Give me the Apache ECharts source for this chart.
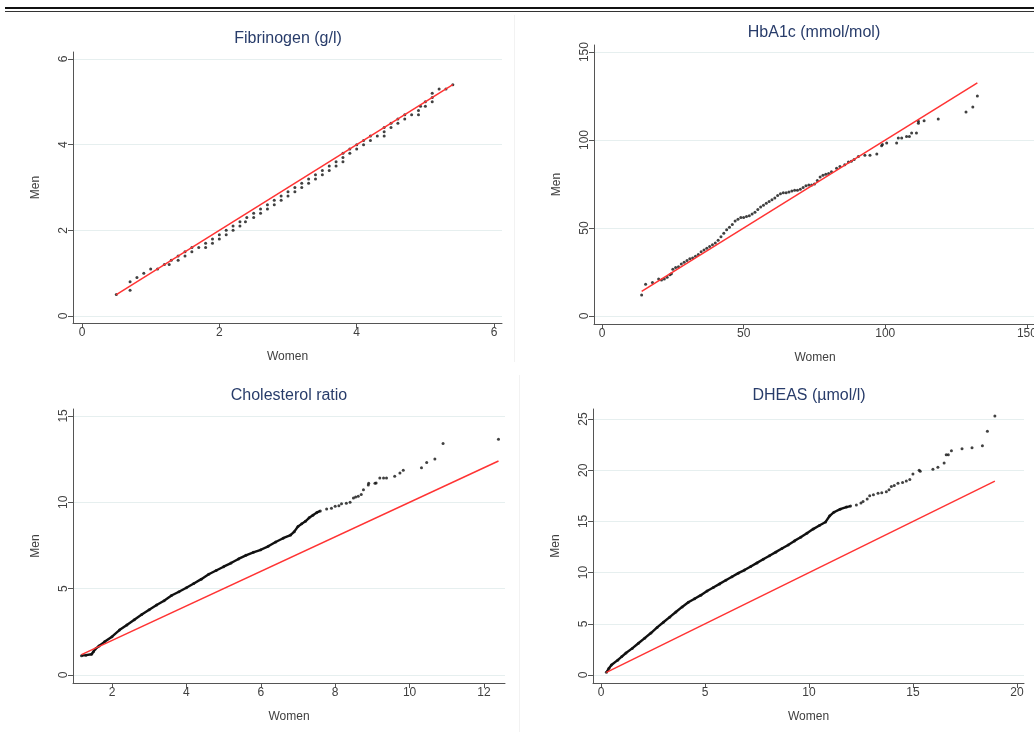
<!DOCTYPE html>
<html><head><meta charset="utf-8">
<script src="https://cdn.jsdelivr.net/npm/echarts@6/dist/echarts.min.js"></script>
<style>html,body{margin:0;padding:0;background:#fff}#c{width:1034px;height:732px}</style>
</head><body><div id="c"></div><script>
// ---------- data ----------
const titles = ['Fibrinogen (g/l)', 'HbA1c (mmol/mol)', 'Cholesterol ratio', 'DHEAS (\u00b5mol/l)'];
const xName = 'Women';
const yName = 'Men';

const fibXTicks = [0, 2, 4, 6];
const fibYTicks = [0, 2, 4, 6];
const hbaXTicks = [0, 50, 100, 150];
const hbaYTicks = [0, 50, 100, 150];
const cholXTicks = [2, 4, 6, 8, 10, 12];
const cholYTicks = [0, 5, 10, 15];
const dheXTicks = [0, 5, 10, 15, 20];
const dheYTicks = [0, 5, 10, 15, 20, 25];

// reference (equality) line end values
const fibRef = [0.5, 5.4];
const hbaRef = [14, 132.5];
const cholRef = [1.18, 12.39];
const dheRef = [0.26, 18.94];

const fibPoints = [[0.5,0.5],[0.7,0.8],[0.7,0.6],[0.8,0.9],[0.9,1.0],[1.0,1.1],[1.1,1.1],[1.2,1.2],[1.27,1.2],[1.3,1.3],[1.4,1.3],[1.4,1.4],[1.5,1.5],[1.5,1.4],[1.6,1.6],[1.6,1.5],[1.7,1.6],[1.8,1.7],[1.8,1.6],[1.9,1.8],[1.9,1.7],[2.0,1.9],[2.0,1.8],[2.1,2.0],[2.1,1.9],[2.2,2.1],[2.2,2.0],[2.3,2.2],[2.3,2.1],[2.38,2.2],[2.4,2.3],[2.5,2.4],[2.5,2.3],[2.6,2.5],[2.6,2.4],[2.7,2.6],[2.7,2.5],[2.8,2.7],[2.8,2.6],[2.9,2.8],[2.9,2.7],[3.0,2.9],[3.0,2.8],[3.1,3.0],[3.1,2.9],[3.2,3.1],[3.2,3.0],[3.3,3.2],[3.3,3.1],[3.4,3.3],[3.4,3.2],[3.5,3.4],[3.5,3.3],[3.6,3.5],[3.6,3.4],[3.7,3.6],[3.7,3.5],[3.8,3.8],[3.8,3.7],[3.8,3.6],[3.9,3.9],[3.9,3.8],[4.0,4.0],[4.0,3.9],[4.1,4.1],[4.1,4.0],[4.2,4.2],[4.2,4.1],[4.3,4.2],[4.4,4.3],[4.4,4.2],[4.4,4.4],[4.5,4.5],[4.5,4.4],[4.6,4.6],[4.6,4.5],[4.7,4.7],[4.7,4.6],[4.8,4.7],[4.9,4.8],[4.9,4.7],[4.93,4.9],[5.0,5.0],[5.0,4.9],[5.1,5.2],[5.1,5.1],[5.1,5.0],[5.2,5.3],[5.3,5.3],[5.4,5.4]];

const hbaPoints = [[14,12],[15.4,18],[17.8,19],[20,21],[21,20.5],[22,21],[23,22],[24,23.5],[24.5,24],[25,26.5],[26,27.5],[27,28],[28,29.5],[29,30.5],[30,31.5],[31,32.5],[32,33],[33,34],[34,35],[35,36.5],[36,37.5],[37,38.5],[38,39.5],[39,40.5],[40,41.5],[41,43],[42,45],[43,47],[44,49],[45,50.5],[46,52],[47,54],[48,55],[49,56],[50,56],[51,56.5],[52,57],[53,58],[54,59],[55,60.5],[56,62],[57,63],[58,64],[59,65],[60,66],[61,67],[62,68.5],[63,69.5],[64,70],[65,70],[66,70.5],[67,71],[68,71.5],[69,71.5],[70,72],[71,73],[72,74],[73,74.5],[74,74.5],[75,75],[76,77],[77,79],[78,80],[79,80.5],[80,81],[81,82],[82.8,84],[84,85],[85.7,86],[87,87.5],[88,88],[89,89],[90.5,90.7],[92.8,91.3],[94.6,91.3],[97,92],[98.7,96.8],[99,97.5],[100.5,98.3],[104,98.3],[104.6,101.2],[105.8,101.2],[107.5,102],[108.5,102],[109.3,104],[111,104],[111.7,110.6],[111.7,109.5],[113.7,111],[118.7,112],[128.5,115.9],[130.9,118.7],[132.5,125]];

const cholDense = [[1.18,1.12],[1.3,1.15],[1.45,1.2],[1.5,1.35],[1.55,1.5],[1.65,1.68],[1.8,1.92],[2.0,2.22],[2.2,2.6],[2.4,2.9],[2.6,3.2],[2.8,3.5],[3.0,3.78],[3.2,4.05],[3.4,4.3],[3.6,4.6],[3.8,4.82],[4.0,5.05],[4.2,5.3],[4.4,5.55],[4.6,5.83],[4.8,6.05],[5.0,6.27],[5.2,6.48],[5.4,6.72],[5.6,6.93],[5.8,7.1],[6.0,7.25],[6.2,7.45],[6.4,7.7],[6.6,7.92],[6.8,8.1],[6.9,8.3],[7.0,8.6],[7.1,8.75],[7.2,8.9],[7.3,9.1],[7.4,9.25],[7.5,9.4],[7.6,9.5]];
const cholTail = [[7.77,9.61],[7.9,9.65],[8.0,9.77],[8.1,9.8],[8.17,9.92],[8.3,9.95],[8.4,10.0],[8.49,10.25],[8.55,10.3],[8.62,10.35],[8.7,10.45],[8.76,10.73],[8.89,11.0],[8.9,11.1],[9.07,11.1],[9.1,11.12],[9.2,11.4],[9.3,11.4],[9.38,11.4],[9.6,11.5],[9.74,11.7],[9.83,11.85],[10.32,12.0],[10.46,12.3],[10.68,12.5],[10.9,13.4],[12.39,13.65]];

const dheDense = [[0.26,0.26],[0.38,0.65],[0.5,0.98],[0.8,1.45],[1.0,1.8],[1.2,2.15],[1.5,2.6],[1.8,3.1],[2.1,3.6],[2.4,4.1],[2.7,4.65],[3.0,5.15],[3.3,5.65],[3.6,6.15],[3.9,6.65],[4.2,7.1],[4.5,7.45],[4.8,7.8],[5.1,8.2],[5.4,8.55],[5.7,8.9],[6.0,9.25],[6.3,9.6],[6.6,9.95],[6.9,10.25],[7.2,10.6],[7.5,10.95],[7.8,11.3],[8.1,11.65],[8.4,12.0],[8.7,12.35],[9.0,12.7],[9.3,13.1],[9.6,13.45],[9.9,13.85],[10.2,14.25],[10.5,14.6],[10.8,14.95],[11.0,15.55],[11.2,15.9],[11.5,16.2],[11.8,16.4],[12.0,16.5]];
const dheTail = [[12.28,16.6],[12.5,16.8],[12.6,16.94],[12.8,17.2],[12.92,17.5],[13.1,17.6],[13.32,17.75],[13.5,17.8],[13.72,17.9],[13.85,18.1],[13.96,18.4],[14.1,18.5],[14.28,18.73],[14.5,18.8],[14.68,18.96],[14.85,19.1],[15.0,19.64],[15.3,20.0],[15.35,19.9],[15.96,20.1],[16.2,20.3],[16.5,20.7],[16.6,21.5],[16.7,21.5],[16.85,21.9],[17.36,22.1],[17.84,22.2],[18.34,22.4],[18.58,23.8],[18.94,25.3]];

// ---------- layout ----------
const FONT = 'Liberation Sans, Arial, sans-serif';
const panels = [
  {grid:{left:73,top:52,width:429,height:271}, x:[-0.131,6.116], y:[-0.163,6.164], xt:fibXTicks, yt:fibYTicks, title:titles[0], tx:288, ty:31, dense:null, pts:fibPoints, ref:fibRef},
  {grid:{left:594,top:45,width:442,height:279}, x:[-2.82,153.2], y:[-4.55,154.0], xt:hbaXTicks, yt:hbaYTicks, title:titles[1], tx:814, ty:25, dense:null, pts:hbaPoints, ref:hbaRef},
  {grid:{left:73,top:409,width:432,height:274}, x:[0.952,12.565], y:[-0.463,15.40], xt:cholXTicks, yt:cholYTicks, title:titles[2], tx:289, ty:388, dense:cholDense, pts:cholDense.concat(cholTail), ref:cholRef},
  {grid:{left:593,top:409,width:431,height:274}, x:[-0.385,20.34], y:[-0.78,25.98], xt:dheXTicks, yt:dheYTicks, title:titles[3], tx:809, ty:388, dense:dheDense, pts:dheDense.concat(dheTail), ref:dheRef}
];

const axisColor = '#555';
const labelColor = '#404040';
const option = {
  animation:false,
  backgroundColor:'#fff',
  title: panels.map(p => ({text:p.title, left:p.tx, top:p.ty, textAlign:'center', padding:0,
    textStyle:{fontFamily:FONT, fontSize:16, fontWeight:'normal', color:'#283c6a'}})),
  grid: panels.map(p => Object.assign({containLabel:false, outerBoundsMode:'none'}, p.grid)),
  xAxis: panels.map((p,i) => ({type:'value', gridIndex:i, min:p.x[0], max:p.x[1],
    name:xName, nameLocation:'middle', nameGap:28,
    nameTextStyle:{fontFamily:FONT, fontSize:12, color:labelColor},
    axisLine:{show:true, onZero:false, lineStyle:{color:axisColor, width:1}},
    axisTick:{show:true, length:5, customValues:p.xt, lineStyle:{color:axisColor}},
    axisLabel:{customValues:p.xt, fontFamily:FONT, fontSize:12, color:labelColor, margin:4},
    splitLine:{show:false}})),
  yAxis: panels.map((p,i) => ({type:'value', gridIndex:i, min:p.y[0], max:p.y[1],
    name:yName, nameLocation:'middle', nameGap:31,
    nameTextStyle:{fontFamily:FONT, fontSize:12, color:labelColor},
    axisLine:{show:true, onZero:false, lineStyle:{color:axisColor, width:1}},
    axisTick:{show:true, length:5, customValues:p.yt, lineStyle:{color:axisColor}},
    axisLabel:{customValues:p.yt, rotate:90, fontFamily:FONT, fontSize:12, color:labelColor, margin:3},
    splitLine:{show:true, lineStyle:{color:'#e6efef', width:1}}})),
  series: [],
  graphic: [
    {type:'rect', shape:{x:5, y:7, width:1029, height:2}, style:{fill:'#111'}, silent:true},
    {type:'rect', shape:{x:5, y:11, width:1029, height:1}, style:{fill:'#333'}, silent:true},
    {type:'rect', shape:{x:514, y:15, width:1, height:347}, style:{fill:'#f2f2f2'}, silent:true},
    {type:'rect', shape:{x:519, y:375, width:1, height:357}, style:{fill:'#f2f2f2'}, silent:true}
  ]
};

panels.forEach((p,i) => {
  if (p.dense) {
    option.series.push({type:'line', xAxisIndex:i, yAxisIndex:i, data:p.dense, showSymbol:false,
      lineStyle:{color:'#111', width:2.4}, z:2, silent:true});
  }
  option.series.push({type:'scatter', xAxisIndex:i, yAxisIndex:i, data:p.pts, symbol:'circle', symbolSize:3,
    itemStyle:{color:'#111'}, z:3, silent:true});
  option.series.push({type:'line', xAxisIndex:i, yAxisIndex:i, data:[[p.ref[0],p.ref[0]],[p.ref[1],p.ref[1]]],
    showSymbol:false, lineStyle:{color:'#ff3333', width:1.5}, z:4, silent:true});
});

const chart = echarts.init(document.getElementById('c'), null, {renderer:'canvas'});
chart.setOption(option);
</script></body></html>
